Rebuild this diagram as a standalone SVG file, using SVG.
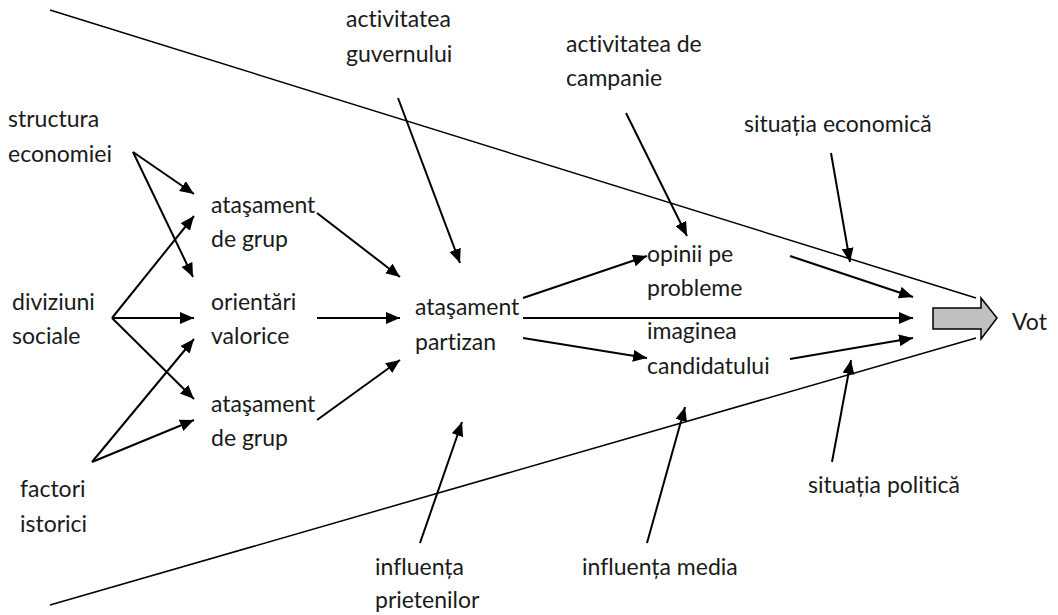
<svg xmlns="http://www.w3.org/2000/svg" width="1058" height="615" viewBox="0 0 1058 615">
<style>
text{font-family:Lato,"Open Sans","Liberation Sans",sans-serif;font-size:23px;fill:#1a1a1a;font-variant-ligatures:none}
.c line{stroke:#000;stroke-width:2;marker-end:url(#ah)}
.f{stroke:#000;stroke-width:1.5;fill:none}
</style>
<defs>
<marker id="ah" markerUnits="userSpaceOnUse" markerWidth="16" markerHeight="14" refX="14" refY="6" orient="auto">
<path d="M0,0 L14,6 L0,12 z" fill="#000"/>
</marker>
</defs>
<rect width="1058" height="615" fill="#fff"/>
<g id="funnel">
<line class="f" x1="50" y1="10" x2="976" y2="298"/>
<line class="f" x1="50" y1="605" x2="976" y2="338"/>
</g>
<g id="vot-arrow">
<path d="M933,308 L981,308 L981,298 L997,318 L981,339 L981,329 L933,329 z" fill="#c0c0c0" stroke="#000" stroke-width="1.5"/>
</g>
<g id="structura"><text x="8" y="127">structura</text><text x="8" y="162">economiei</text></g>
<g id="diviziuni"><text x="12" y="310">diviziuni</text><text x="12" y="344">sociale</text></g>
<g id="factori"><text x="20" y="497">factori</text><text x="20" y="532">istorici</text></g>
<g id="atasament1"><text x="211" y="213">ataşament</text><text x="211" y="247">de grup</text></g>
<g id="orientari"><text x="211" y="310">orientări</text><text x="211" y="344">valorice</text></g>
<g id="atasament2"><text x="211" y="412">ataşament</text><text x="211" y="446">de grup</text></g>
<g id="partizan"><text x="415" y="315">ataşament</text><text x="415" y="350">partizan</text></g>
<g id="activitatea-guvernului"><text x="346" y="27">activitatea</text><text x="346" y="62">guvernului</text></g>
<g id="activitatea-campanie"><text x="566" y="52">activitatea de</text><text x="566" y="86">campanie</text></g>
<g id="opinii"><text x="647" y="262">opinii pe</text><text x="647" y="296">probleme</text></g>
<g id="imaginea"><text x="647" y="339">imaginea</text><text x="647" y="374">candidatului</text></g>
<g id="situatia-economica"><text x="744" y="132">situația economică</text></g>
<g id="situatia-politica"><text x="808" y="493">situația politică</text></g>
<g id="influenta-prietenilor"><text x="375" y="575">influența</text><text x="375" y="608">prietenilor</text></g>
<g id="influenta-media"><text x="582" y="575">influența media</text></g>
<g id="vot"><text x="1012" y="330">Vot</text></g>
<g class="c" id="connectors">
<line x1="133" y1="152" x2="194" y2="194"/>
<line x1="133" y1="152" x2="193" y2="277"/>
<line x1="112" y1="318" x2="194" y2="216"/>
<line x1="112" y1="318" x2="194" y2="318"/>
<line x1="112" y1="318" x2="194" y2="399"/>
<line x1="92" y1="462" x2="194" y2="339"/>
<line x1="92" y1="462" x2="194" y2="420"/>
<line x1="317" y1="213" x2="400" y2="277"/>
<line x1="317" y1="318" x2="400" y2="318"/>
<line x1="317" y1="420" x2="400" y2="360"/>
<line x1="398" y1="98" x2="460" y2="263"/>
<line x1="626" y1="113" x2="687" y2="236"/>
<line x1="523" y1="298" x2="647" y2="256"/>
<line x1="523" y1="318" x2="913" y2="318"/>
<line x1="523" y1="338" x2="647" y2="358"/>
<line x1="790" y1="256" x2="913" y2="297"/>
<line x1="790" y1="359" x2="913" y2="338"/>
<line x1="831" y1="153" x2="850" y2="262"/>
<line x1="832" y1="462" x2="851" y2="360"/>
<line x1="420" y1="543" x2="462" y2="422"/>
<line x1="647" y1="543" x2="685" y2="407"/>
</g>
</svg>
